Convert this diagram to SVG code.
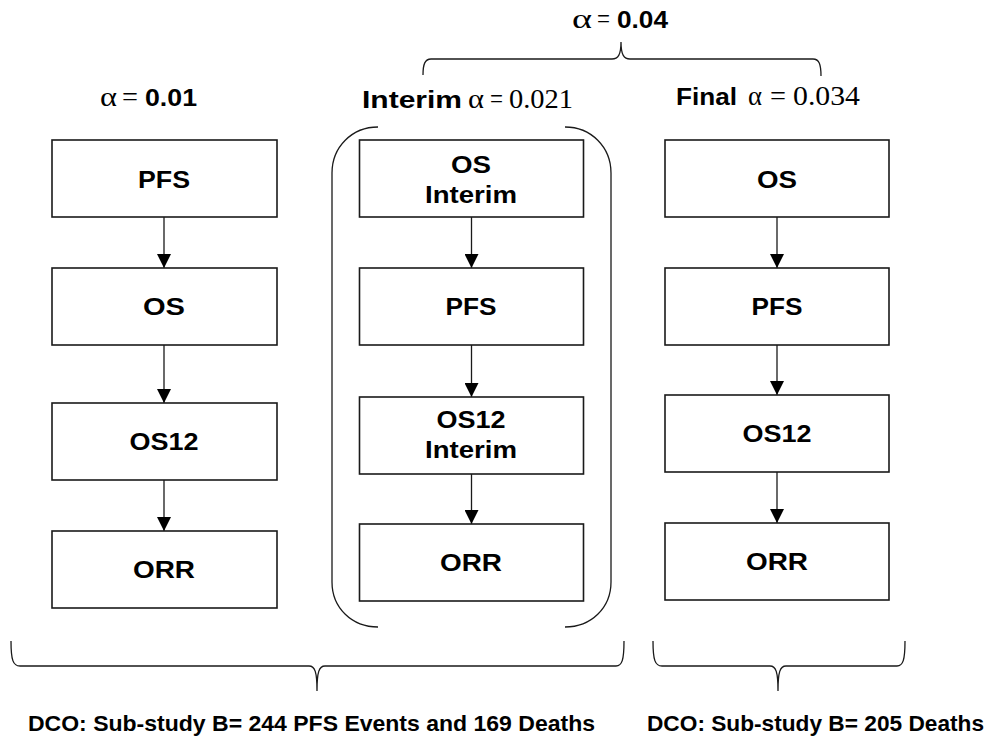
<svg xmlns="http://www.w3.org/2000/svg" width="986" height="737" viewBox="0 0 986 737">
<style>
.box{fill:#fff;stroke:#1a1a1a;stroke-width:1.6}
.lbl{font-family:"Liberation Sans",Arial,sans-serif;font-weight:bold;font-size:24px;fill:#000;text-anchor:middle}
.hd{font-family:"Liberation Sans",Arial,sans-serif;font-weight:bold;font-size:23px;fill:#000}
.hw{font-family:"Liberation Sans",Arial,sans-serif;font-weight:bold;font-size:24px;fill:#000}
.ser{font-family:"Liberation Serif","DejaVu Serif",serif;font-size:27px;fill:#000}
.conn{stroke:#1a1a1a;stroke-width:1.3;fill:none}
.brace{stroke:#1a1a1a;stroke-width:1.3;fill:none}
.foot{font-family:"Liberation Sans",Arial,sans-serif;font-weight:bold;font-size:22px;fill:#000}
</style>
<defs>
<marker id="arr" markerUnits="userSpaceOnUse" markerWidth="14" markerHeight="14" viewBox="0 0 12 12" refX="12" refY="6" orient="auto">
<path d="M0,0 L12,6 L0,12 Z" fill="#000"/>
</marker>
</defs>
<rect width="986" height="737" fill="#fff"/>

<!-- headers -->
<g id="hdr-top">
<text class="ser" x="572" y="28" textLength="20" lengthAdjust="spacingAndGlyphs">α</text>
<text class="ser" x="597" y="28" textLength="13" lengthAdjust="spacingAndGlyphs">=</text>
<text class="hd" x="617" y="28" textLength="51" lengthAdjust="spacingAndGlyphs">0.04</text>
</g>
<g id="hdr-left">
<text class="ser" x="100" y="106" textLength="17" lengthAdjust="spacingAndGlyphs">α</text>
<text class="ser" x="122" y="106" textLength="16" lengthAdjust="spacingAndGlyphs">=</text>
<text class="hd" x="145" y="106" textLength="52" lengthAdjust="spacingAndGlyphs">0.01</text>
</g>
<g id="hdr-mid">
<text class="hw" x="362" y="108" textLength="100" lengthAdjust="spacingAndGlyphs">Interim</text>
<text class="ser" x="468" y="108" textLength="16" lengthAdjust="spacingAndGlyphs">α</text>
<text class="ser" x="490" y="108" textLength="13" lengthAdjust="spacingAndGlyphs">=</text>
<text class="ser" x="509" y="108" textLength="64" lengthAdjust="spacingAndGlyphs">0.021</text>
</g>
<g id="hdr-right">
<text class="hw" x="676" y="105" textLength="61" lengthAdjust="spacingAndGlyphs">Final</text>
<text class="ser" x="748" y="105" textLength="14" lengthAdjust="spacingAndGlyphs">α</text>
<text class="ser" x="770" y="105" textLength="16" lengthAdjust="spacingAndGlyphs">=</text>
<text class="ser" x="793" y="105" textLength="67" lengthAdjust="spacingAndGlyphs">0.034</text>
</g>

<!-- braces and parentheses -->
<g id="braces">
<path class="brace" d="M423,75 C423,64 425,59 431,59 L612,59 C618,59 621,55 621,42 C621,55 624,59 630,59 L813,59 C819,59 821,64 821,76"/>
<path class="brace" d="M11,641 C11,660 13,666 20,666 L309,666 C315,666 317,672 317,691 C317,672 319,666 325,666 L616,666 C622,666 624,660 624,641"/>
<path class="brace" d="M653,641 C653,660 655,666 662,666 L770,666 C776,666 778,672 778,691 C778,672 780,666 786,666 L897,666 C903,666 905,660 905,641"/>
<path class="brace" d="M378,127 C352,127 332,147 332,173 L332,582 C332,608 352,627 378,627"/>
<path class="brace" d="M565,127 C591,127 611,147 611,173 L611,582 C611,608 591,627 565,627"/>
</g>

<!-- connectors -->
<g id="connectors">
<line class="conn" x1="164" y1="217" x2="164" y2="268" marker-end="url(#arr)"/>
<line class="conn" x1="164" y1="345" x2="164" y2="403" marker-end="url(#arr)"/>
<line class="conn" x1="164" y1="480" x2="164" y2="531" marker-end="url(#arr)"/>
<line class="conn" x1="471.5" y1="217" x2="471.5" y2="268" marker-end="url(#arr)"/>
<line class="conn" x1="471.5" y1="345" x2="471.5" y2="397" marker-end="url(#arr)"/>
<line class="conn" x1="471.5" y1="474" x2="471.5" y2="524" marker-end="url(#arr)"/>
<line class="conn" x1="777" y1="217" x2="777" y2="268" marker-end="url(#arr)"/>
<line class="conn" x1="777" y1="345" x2="777" y2="395" marker-end="url(#arr)"/>
<line class="conn" x1="777" y1="472" x2="777" y2="523" marker-end="url(#arr)"/>
</g>

<!-- left column -->
<g id="l-pfs"><rect class="box" x="52" y="140" width="225" height="77"/><text class="lbl" x="164" y="188" textLength="52" lengthAdjust="spacingAndGlyphs">PFS</text></g>
<g id="l-os"><rect class="box" x="52" y="268" width="225" height="77"/><text class="lbl" x="164" y="315" textLength="42" lengthAdjust="spacingAndGlyphs">OS</text></g>
<g id="l-os12"><rect class="box" x="52" y="403" width="225" height="77"/><text class="lbl" x="164" y="450" textLength="69" lengthAdjust="spacingAndGlyphs">OS12</text></g>
<g id="l-orr"><rect class="box" x="52" y="531" width="225" height="77"/><text class="lbl" x="164" y="578" textLength="62" lengthAdjust="spacingAndGlyphs">ORR</text></g>

<!-- middle column -->
<g id="m-os"><rect class="box" x="359.5" y="140" width="224" height="77"/><text class="lbl" x="471" y="173" textLength="40" lengthAdjust="spacingAndGlyphs">OS</text><text class="lbl" x="471" y="203" textLength="92" lengthAdjust="spacingAndGlyphs">Interim</text></g>
<g id="m-pfs"><rect class="box" x="359.5" y="268" width="224" height="77"/><text class="lbl" x="471" y="315" textLength="51" lengthAdjust="spacingAndGlyphs">PFS</text></g>
<g id="m-os12"><rect class="box" x="359.5" y="397" width="224" height="77"/><text class="lbl" x="471" y="428" textLength="69" lengthAdjust="spacingAndGlyphs">OS12</text><text class="lbl" x="471" y="458" textLength="92" lengthAdjust="spacingAndGlyphs">Interim</text></g>
<g id="m-orr"><rect class="box" x="359.5" y="524" width="224" height="77"/><text class="lbl" x="471" y="571" textLength="62" lengthAdjust="spacingAndGlyphs">ORR</text></g>

<!-- right column -->
<g id="r-os"><rect class="box" x="665" y="140" width="224" height="77"/><text class="lbl" x="777" y="188" textLength="40" lengthAdjust="spacingAndGlyphs">OS</text></g>
<g id="r-pfs"><rect class="box" x="665" y="268" width="224" height="77"/><text class="lbl" x="777" y="315" textLength="51" lengthAdjust="spacingAndGlyphs">PFS</text></g>
<g id="r-os12"><rect class="box" x="665" y="395" width="224" height="77"/><text class="lbl" x="777" y="442" textLength="69" lengthAdjust="spacingAndGlyphs">OS12</text></g>
<g id="r-orr"><rect class="box" x="665" y="523" width="224" height="77"/><text class="lbl" x="777" y="570" textLength="62" lengthAdjust="spacingAndGlyphs">ORR</text></g>

<!-- footers -->
<g id="foot-left"><text class="foot" x="28" y="731" textLength="567" lengthAdjust="spacingAndGlyphs">DCO: Sub-study B= 244 PFS Events and 169 Deaths</text></g>
<g id="foot-right"><text class="foot" x="647" y="731" textLength="337" lengthAdjust="spacingAndGlyphs">DCO: Sub-study B= 205 Deaths</text></g>
</svg>
